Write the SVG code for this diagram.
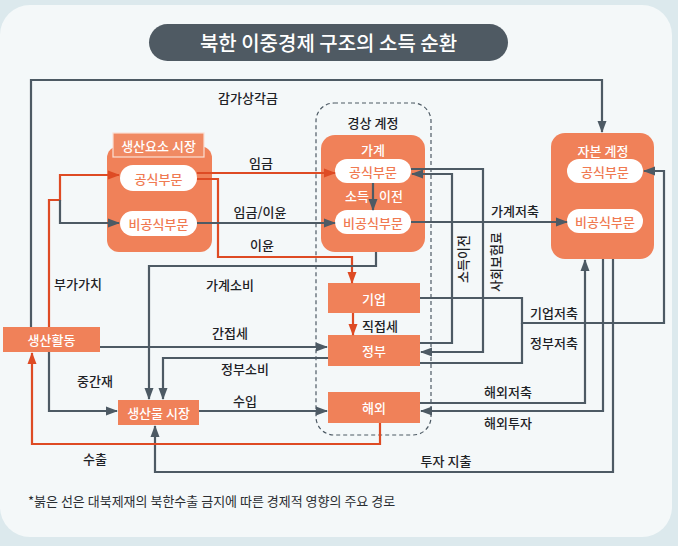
<svg xmlns="http://www.w3.org/2000/svg" width="678" height="546" viewBox="0 0 678 546">
<defs>
<style>
text{font-family:"Noto Sans CJK KR","Noto Sans",sans-serif;font-size:13px;text-anchor:middle;dominant-baseline:central}
.lbl{fill:#1e2226;font-weight:500}
.wt{fill:#ffffff;font-weight:500}
.ot{fill:#f07a52;font-weight:500}
.box{fill:#f08159}
.pill{fill:#ffffff}
.g{fill:none;stroke:#4d5a64;stroke-width:2.2;stroke-linejoin:miter}
.r{fill:none;stroke:#de4b24;stroke-width:2.2;stroke-linejoin:miter}
</style>
<marker id="ag" viewBox="0 0 12 10" refX="11" refY="5" markerWidth="12" markerHeight="10" markerUnits="userSpaceOnUse" orient="auto">
<path d="M0,0.5 L12,5 L0,9.5 z" fill="#4d5a64"/>
</marker>
<marker id="ar" viewBox="0 0 12 10" refX="11" refY="5" markerWidth="12" markerHeight="10" markerUnits="userSpaceOnUse" orient="auto">
<path d="M0,0.5 L12,5 L0,9.5 z" fill="#de4b24"/>
</marker>
</defs>
<rect x="0" y="0" width="678" height="546" fill="#dce9ed"/>
<rect x="0" y="5" width="672" height="532" rx="30" fill="#f4f8f9"/>
<g id="title">
<rect x="149" y="24" width="359" height="37" rx="18.5" fill="#4f5a63"/>
<text x="328.5" y="42.5" style="font-size:20px;fill:#ffffff;font-weight:500">북한 이중경제 구조의 소득 순환</text>
</g>
<g id="current-account">
<rect x="316" y="103" width="115" height="332" rx="18" fill="none" stroke="#4d5a64" stroke-width="1.2" stroke-dasharray="4,3"/>
<text class="lbl" x="373" y="122">경상 계정</text>
</g>
<g id="factor-market">
<rect class="box" x="107" y="146" width="105" height="106" rx="12"/>
<rect x="113" y="133" width="91" height="24" fill="#f08a63" stroke="#fbe0d4" stroke-width="1.2"/>
<text class="wt" x="158.5" y="145">생산요소 시장</text>
<rect class="pill" x="120" y="165" width="77" height="26" rx="13"/>
<text class="ot" x="158.5" y="178">공식부문</text>
<rect class="pill" x="120" y="211" width="77" height="25" rx="12.5"/>
<text class="ot" x="158.5" y="223.5">비공식부문</text>
</g>
<g id="household">
<rect class="box" x="321" y="135" width="104" height="117" rx="14"/>
<text class="wt" x="373" y="149">가계</text>
<rect class="pill" x="335" y="159" width="76" height="24" rx="12"/>
<text class="ot" x="373" y="171">공식부문</text>
<text class="wt" x="357" y="195">소득</text>
<text class="wt" x="391" y="195">이전</text>
<rect class="pill" x="335" y="210" width="76" height="24" rx="12"/>
<text class="ot" x="373" y="222">비공식부문</text>
</g>
<g id="capital-account">
<rect class="box" x="551" y="133" width="103" height="126" rx="14"/>
<text class="wt" x="603" y="150">자본 계정</text>
<rect class="pill" x="567" y="159" width="76" height="24" rx="12"/>
<text class="ot" x="605" y="171">공식부문</text>
<rect class="pill" x="567" y="209" width="76" height="24" rx="12"/>
<text class="ot" x="605" y="221">비공식부문</text>
</g>
<g id="firm">
<rect class="box" x="328" y="283" width="92" height="30"/>
<text class="wt" x="374" y="298">기업</text>
</g>
<g id="government">
<rect class="box" x="328" y="335" width="92" height="31"/>
<text class="wt" x="374" y="350.5">정부</text>
</g>
<g id="foreign">
<rect class="box" x="328" y="392" width="92" height="31"/>
<text class="wt" x="374" y="407.5">해외</text>
</g>
<g id="production">
<rect class="box" x="3" y="327" width="97" height="25"/>
<text class="wt" x="51.5" y="339.5">생산활동</text>
</g>
<g id="product-market">
<rect class="box" x="118" y="400" width="81" height="25"/>
<text class="wt" x="158.5" y="412.5">생산물 시장</text>
</g>
<g id="connectors">
<path class="g" d="M31,327 V80 H602 V132" marker-end="url(#ag)"/>
<path class="r" d="M49,327 V200 H60 V175 H119" marker-end="url(#ar)"/>
<path class="g" d="M60,200 V223 H119" marker-end="url(#ag)"/>
<path class="r" d="M197,173 H335" marker-end="url(#ar)"/>
<path class="r" d="M197,179 H218 V257 H352 V283" marker-end="url(#ar)"/>
<path class="g" d="M197,223 H335" marker-end="url(#ag)"/>
<path class="g" d="M373,183 V210" marker-end="url(#ag)"/>
<path class="g" d="M411,222 H567" marker-end="url(#ag)"/>
<path class="g" d="M411,169 H483 V352 H421" marker-end="url(#ag)"/>
<path class="g" d="M420,343 H452 V174 H412" marker-end="url(#ag)"/>
<path class="r" d="M353,313 V335" marker-end="url(#ar)"/>
<path class="g" d="M420,298 H522 V323 H664 V171 H644" marker-end="url(#ag)"/>
<path class="g" d="M420,363 H522 V323"/>
<path class="g" d="M376,252 V266 H149 V399" marker-end="url(#ag)"/>
<path class="g" d="M328,358 H163 V399" marker-end="url(#ag)"/>
<path class="g" d="M100,347 H327" marker-end="url(#ag)"/>
<path class="g" d="M49,352 V411 H117" marker-end="url(#ag)"/>
<path class="g" d="M199,411 H327" marker-end="url(#ag)"/>
<path class="g" d="M420,403 H585 V260" marker-end="url(#ag)"/>
<path class="g" d="M603,259 V411 H421" marker-end="url(#ag)"/>
<path class="g" d="M613,259 V472 H155 V426" marker-end="url(#ag)"/>
<path class="r" d="M380,423 V444 H32 V353" marker-end="url(#ar)"/>
</g>
<g id="labels">
<text class="lbl" x="248" y="97">감가상각금</text>
<text class="lbl" x="261" y="162">임금</text>
<text class="lbl" x="260" y="211">임금/이윤</text>
<text class="lbl" x="262" y="244">이윤</text>
<text class="lbl" x="78" y="283">부가가치</text>
<text class="lbl" x="230" y="284">가계소비</text>
<text class="lbl" x="230" y="332">간접세</text>
<text class="lbl" x="245" y="368">정부소비</text>
<text class="lbl" x="95" y="380">중간재</text>
<text class="lbl" x="245" y="400">수입</text>
<text class="lbl" x="380" y="325">직접세</text>
<text class="lbl" x="515" y="210">가계저축</text>
<text class="lbl" x="554" y="312">기업저축</text>
<text class="lbl" x="554" y="342">정부저축</text>
<text class="lbl" x="508" y="391">해외저축</text>
<text class="lbl" x="508" y="422">해외투자</text>
<text class="lbl" x="446" y="460">투자 지출</text>
<text class="lbl" x="95" y="458">수출</text>
<text class="lbl" transform="translate(462,259) rotate(-90)">소득이전</text>
<text class="lbl" transform="translate(495,262) rotate(-90)">사회보험료</text>
</g>
<text x="28" y="500" style="text-anchor:start;fill:#2a2e32;font-size:13px">*붉은 선은 대북제재의 북한수출 금지에 따른 경제적 영향의 주요 경로</text>
</svg>
